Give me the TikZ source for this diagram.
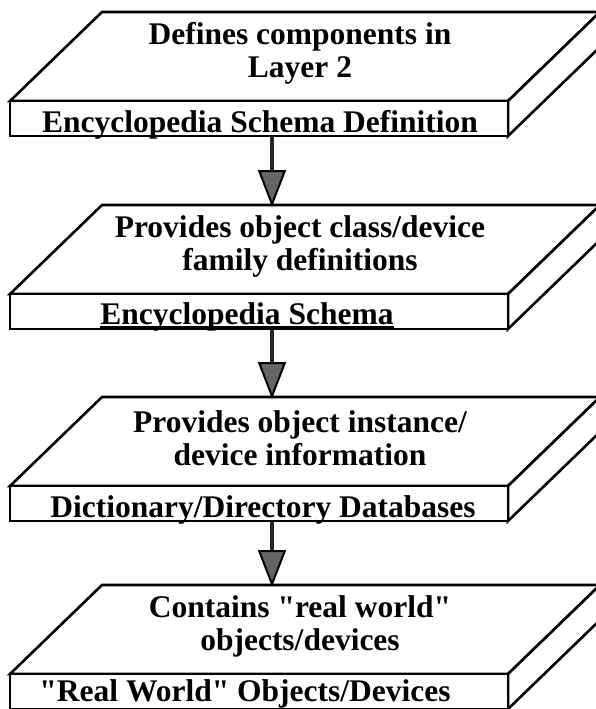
\documentclass[tikz,border=0pt]{standalone}
\usepackage{fontspec}
\setmainfont{Liberation Serif}[Ligatures=TeXOff]
\usetikzlibrary{arrows.meta}
\tikzset{
  slabline/.style={line width=2.6pt, line join=miter, fill=white},
  toptext/.style={font=\fontsize{31.5}{33}\selectfont\bfseries, align=center, inner sep=0pt},
  fronttext/.style={font=\fontsize{31.5}{33}\selectfont\bfseries, inner sep=0pt, anchor=base},
  flow/.style={line width=4pt, draw=black!85, -{Triangle[length=37pt,width=28pt,line width=2pt,fill=black!60,color=black]}},
}
\begin{document}
\begin{tikzpicture}[x=1pt,y=-1pt]
\useasboundingbox (0,0) rectangle (595,709);
\foreach \Y/\n in {12/1,205/2,397/3,585/4}{
  \draw[slabline] (10,\Y+89) -- (102,\Y) -- (600,\Y) -- (508,\Y+89) -- cycle;
  \draw[slabline] (508,\Y+89) -- (600,\Y) -- (600,\Y+35) -- (508,\Y+124) -- cycle;
  \draw[slabline] (10,\Y+89) rectangle (508,\Y+124);
  \coordinate (top\n) at (272,\Y+2);
  \coordinate (bot\n) at (272,\Y+125);
}
\node[toptext] (t1) at (300,53) {Defines components in\\Layer 2};
\node[toptext] (t2) at (300,246) {Provides object class/device\\family definitions};
\node[toptext] (t3) at (300,438) {Provides object instance/\\device information};
\node[toptext] (t4) at (300,626) {Contains "real world"\\objects/devices};
\node[fronttext] (f1) at (260,132) {Encyclopedia Schema Definition};
\node[fronttext] (f2) at (247,324) {Encyclopedia Schema};
\node[fronttext] (f3) at (263,517) {Dictionary/Directory Databases};
\node[fronttext] (f4) at (245,701) {"Real World" Objects/Devices};
\draw[line width=2.4pt] ([yshift=-3.5pt]f2.base west) -- ([yshift=-3.5pt]f2.base east);
\draw[flow] (bot1) -- (top2);
\draw[flow] (bot2) -- (top3);
\draw[flow] (bot3) -- (top4);
\end{tikzpicture}
\end{document}
